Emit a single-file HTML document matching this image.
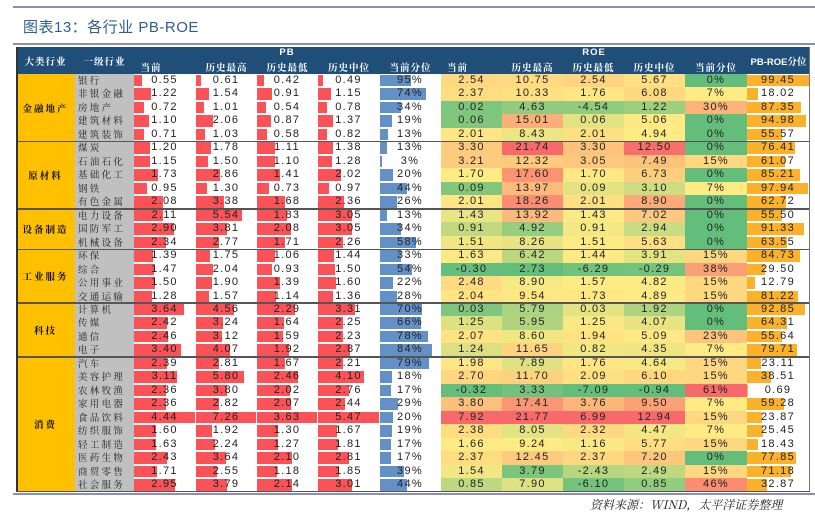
<!DOCTYPE html>
<html><head><meta charset="utf-8">
<style>
html,body{margin:0;padding:0;background:#fff;}
#root{position:relative;width:815px;height:514px;overflow:hidden;font-family:"Liberation Sans","Noto Sans CJK SC",sans-serif;}
.abs{position:absolute;box-sizing:border-box;}
.num{font-size:11px;color:#222;letter-spacing:1.3px;text-align:center;white-space:nowrap;}
.cn{font-family:"Noto Serif CJK SC","Noto Sans CJK SC",serif;}
.hd{color:#fff;font-size:9.5px;font-weight:bold;text-align:center;font-family:"Liberation Sans","Noto Serif CJK SC",serif;letter-spacing:1px;white-space:nowrap;}
</style></head>
<body>
<div id="root">
  <div class="abs" style="left:13px;top:6px;width:802px;height:2px;background:#8c8fb0"></div>
  <div class="abs" style="left:23px;top:16px;font-size:15px;color:#2f5f8f;font-family:'Liberation Sans','Noto Sans CJK SC',sans-serif;letter-spacing:0.5px">图表13：各行业 PB-ROE</div>
  <div class="abs" style="left:13px;top:43px;width:802px;height:2px;background:#8c8fb0"></div>
  <div class="abs" style="left:16px;top:47px;width:794px;height:27px;background:#1f4e79"></div>
  <div id="tbl"></div>
  <div class="abs" style="left:13px;top:493px;width:802px;height:2px;background:#8c8fb0"></div>
  <div class="abs cn" style="left:590px;top:496px;font-size:12px;font-style:italic;color:#222">资料来源：WIND，太平洋证券整理</div>
</div>
<script>
const groups=["金融地产","原材料","设备制造","工业服务","科技","消费"];
const groupSizes=[5,5,3,4,4,10];
const industries=["银行","非银金融","房地产","建筑材料","建筑装饰","煤炭","石油石化","基础化工","钢铁","有色金属","电力设备","国防军工","机械设备","环保","综合","公用事业","交通运输","计算机","传媒","通信","电子","汽车","美容护理","农林牧渔","家用电器","食品饮料","纺织服饰","轻工制造","医药生物","商贸零售","社会服务"];
const pbCur=[0.55,1.22,0.72,1.10,0.71,1.20,1.15,1.73,0.95,2.08,2.11,2.90,2.34,1.39,1.47,1.50,1.28,3.64,2.42,2.46,3.40,2.39,3.11,2.36,2.36,4.44,1.60,1.63,2.43,1.71,2.95];
const pbMax=[0.61,1.54,1.01,2.06,1.03,1.78,1.50,2.86,1.30,3.38,5.54,3.81,2.77,1.75,2.04,1.90,1.57,4.56,3.24,3.12,4.07,2.81,5.80,3.80,2.82,7.26,1.92,2.24,3.64,2.55,3.79];
const pbMin=[0.42,0.91,0.54,0.87,0.58,1.11,1.10,1.41,0.73,1.68,1.83,2.08,1.71,1.06,0.93,1.39,1.14,2.29,1.64,1.59,1.92,1.67,2.46,2.02,2.07,3.63,1.30,1.27,2.10,1.18,2.14];
const pbMed=[0.49,1.15,0.78,1.37,0.82,1.38,1.28,2.02,0.97,2.36,3.05,3.05,2.26,1.44,1.50,1.60,1.36,3.31,2.25,2.23,2.87,2.21,4.10,2.76,2.44,5.47,1.67,1.81,2.81,1.85,3.01];
const pbPct=[95,74,34,19,13,13,3,20,44,26,13,34,58,33,54,22,28,70,66,78,84,79,18,17,29,20,19,17,17,39,44];
const pbPctBar=[32,47,21,12,8,7,2,13,27,17,7,21,37,21,33,13,17,43,42,49,53,50,12,11,18,13,12,11,11,24,27];
const roeCur=[2.54,2.37,0.02,0.06,2.01,3.30,3.21,1.70,0.09,2.01,1.43,0.91,1.51,1.63,-0.30,2.48,2.04,0.03,1.25,2.07,1.24,1.98,2.70,-0.32,3.80,7.92,2.38,1.66,2.37,1.54,0.85];
const roeMax=[10.75,10.33,4.63,15.01,8.43,21.74,12.32,17.60,13.97,18.26,13.92,4.92,8.26,6.42,2.73,8.90,9.54,5.79,5.95,8.60,11.65,7.89,11.70,3.33,17.41,21.77,8.05,9.24,12.45,3.79,7.90];
const roeMin=[2.54,1.76,-4.54,0.06,2.01,3.30,3.05,1.70,0.09,2.01,1.43,0.91,1.51,1.44,-6.29,1.57,1.73,0.03,1.25,1.94,0.82,1.76,2.09,-7.09,3.76,6.99,2.32,1.16,2.37,-2.43,-6.10];
const roeMed=[5.67,6.08,1.22,5.06,4.94,12.50,7.49,6.73,3.10,8.90,7.02,2.94,5.63,3.91,-0.29,4.82,4.89,1.92,4.07,5.09,4.35,4.64,6.10,-0.94,9.50,12.94,4.47,5.77,7.20,2.49,0.85];
const roePct=[0,7,30,0,0,0,15,0,7,0,0,0,0,15,38,15,15,0,0,23,7,15,15,61,7,15,7,15,0,15,46];
const pbRoe=[99.45,18.02,87.35,94.98,55.57,76.41,61.07,85.21,97.94,62.72,55.50,91.33,63.55,84.73,29.50,12.79,81.22,92.85,64.31,55.64,79.71,23.11,38.51,0.69,59.28,23.87,25.45,18.43,77.85,71.18,32.87];

const T=document.getElementById('tbl');
const top0=74, rh=13.47, N=industries.length;
function el(css,txt,cls){const d=document.createElement('div');d.className='abs '+(cls||'');d.style.cssText=css;if(txt!==undefined)d.textContent=txt;T.appendChild(d);return d;}
function yOf(i){return top0+i*rh;}

const hdr=[["大类行业",16,75,54],["一级行业",75,134,54]];
hdr.forEach(h=>{const d=el(`left:${h[1]}px;width:${h[2]-h[1]}px;top:${h[3]}px;`,h[0],'hd');});
let d0=el('left:134px;width:306px;top:47px;','PB','hd');


d0=el('left:441px;width:306px;top:47px;','ROE','hd');


d0=el('left:747px;width:63px;top:54px;letter-spacing:0;','PB-ROE分位','hd');


const sub=["当前","历史最高","历史最低","历史中位","当前分位"];
const pbX=[134,196,257,318,380,441];
const roeX=[441,502,563,624,685,747];
const subOff=[-14,0,0,0,0];
for(let k=0;k<5;k++){
  let a=el(`left:${pbX[k]+subOff[k]}px;width:${pbX[k+1]-pbX[k]}px;top:60px;`,sub[k],'hd');
  
  
  let b=el(`left:${roeX[k]+subOff[k]}px;width:${roeX[k+1]-roeX[k]}px;top:60px;`,sub[k],'hd');
  
  
}

let gi=0;
groups.forEach((g,k)=>{
  const y=yOf(gi), h=groupSizes[k]*rh;
  const c=el(`left:16px;top:${y}px;width:59px;height:${h}px;background:#ffc000;display:flex;align-items:center;justify-content:center;font-size:9.5px;font-weight:bold;color:#111;letter-spacing:2px;`,g,'cn');
  
  
  gi+=groupSizes[k];
});
el(`left:75px;top:${top0}px;width:59px;height:${N*rh}px;background:#c0c0c0;`);
industries.forEach((n,i)=>{
  const c=el(`left:78px;top:${yOf(i)}px;height:${rh}px;line-height:${rh}px;font-size:9.5px;color:#222;letter-spacing:2.3px;white-space:nowrap;`,n,'cn');
  
  
});

function barCol(vals,x0,x1,color,maxv,fmt,name,barVals){
  const w=x1-x0-1;
  vals.forEach((v,i)=>{
    const bv=barVals?barVals[i]:v;
    const bw=Math.max(0,bv/maxv*w);
    const b=el(`left:${x0}px;top:${yOf(i)+1}px;width:${bw}px;height:${rh-2}px;background:${color};`);
    
    
    const t=el(`left:${x0}px;width:${w}px;top:${yOf(i)}px;height:${rh}px;line-height:${rh}px;`,fmt(v),'num');
    
    
  });
}
const f2=v=>v.toFixed(2), fp=v=>v+'%';
const red='#fb5257';
[pbCur,pbMax,pbMin,pbMed].forEach((arr,k)=>barCol(arr,pbX[k],pbX[k+1],red,Math.max(...arr),f2,'pb-'+['current','high','low','median'][k]));
barCol(pbPct,380,441,'#6490c8',61,fp,'pb-percentile',pbPctBar);
barCol(pbRoe,747,810,'#fbb12a',Math.max(...pbRoe),f2,'pb-roe-percentile');

function lerp(a,b,t){return a.map((x,i)=>Math.round(x+(b[i]-x)*t));}
const G=[99,190,123],Y=[255,235,132],R=[248,105,107];
function heat(vals,x0,x1,fmt,name){
  const s=[...vals].sort((a,b)=>a-b);
  const mn=s[0],mx=s[s.length-1],md=s[Math.floor(s.length/2)];
  vals.forEach((v,i)=>{
    let c;
    if(v<=md)c=lerp(G,Y,md===mn?1:(v-mn)/(md-mn));else c=lerp(Y,R,(v-md)/(mx-md));
    const d=el(`left:${x0}px;top:${yOf(i)}px;width:${x1-x0}px;height:${rh+0.5}px;line-height:${rh}px;background:rgb(${c.join(',')});`,fmt(v),'num');
    
    
  });
}
[roeCur,roeMax,roeMin,roeMed].forEach((arr,k)=>heat(arr,roeX[k],roeX[k+1],f2,'roe-'+['current','high','low','median'][k]));
heat(roePct,685,747,fp,'roe-percentile');

let acc=0;
groupSizes.slice(0,-1).forEach(s=>{acc+=s;el(`left:16px;top:${yOf(acc)-0.5}px;width:794px;height:1.5px;background:#555;`);});
el(`left:16px;top:47px;width:1.5px;height:${N*rh+27}px;background:#333;`);
el(`left:809px;top:47px;width:1px;height:${N*rh+27}px;background:#777;`);
el(`left:16px;top:${top0+N*rh-1}px;width:794px;height:1.5px;background:#555;`);
</script>
</body></html>
